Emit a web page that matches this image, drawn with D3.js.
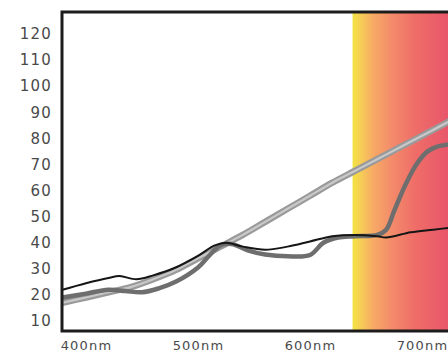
<!DOCTYPE html>
<html>
<head>
<meta charset="utf-8">
<script src="https://cdn.jsdelivr.net/npm/d3@7"></script>
<style>
  html, body { margin: 0; padding: 0; background: #fff; overflow: hidden; }
  svg { display: block; }
  .axis text { font-family: "DejaVu Sans", sans-serif; font-size: 15px; fill: #4a4a4a; letter-spacing: 1.2px; }
  .xaxis text { font-size: 13px; letter-spacing: 1.2px; }
</style>
</head>
<body>
<svg id="chart" width="448" height="355"></svg>
<script>
// ---- data ----
const yTicks = [10, 20, 30, 40, 50, 60, 70, 80, 90, 100, 110, 120];
const xTicks = [400, 500, 600, 700];

// light gray near-straight line
const lightNm  = [379, 400, 420, 440, 460, 480, 500, 520, 540, 560, 580, 600, 620, 640, 660, 680, 700, 720, 730];
const lightVal = [17, 19, 21, 23, 26, 29.5, 34, 38.5, 43, 48, 53, 58, 63, 67.5, 72, 76.5, 81, 85.5, 88];

// black thin line
const blackNm  = [379, 400, 420, 430, 445, 460, 480, 500, 515, 525, 540, 560, 580, 600, 620, 640, 660, 668, 690, 710, 730];
const blackVal = [22, 24.5, 26.5, 27.2, 26, 27.5, 30.5, 35, 39, 40, 38.5, 37.3, 38.5, 40.5, 42.5, 43, 42.5, 42, 44, 45, 46];

// dark gray curve
const darkNm  = [379, 400, 420, 435, 450, 465, 480, 500, 510, 520, 530, 545, 560, 580, 600, 612, 625, 640, 660, 668, 675, 685, 695, 705, 715, 730];
const darkVal = [19, 20.5, 22, 21.5, 21, 22.5, 25, 30.5, 35, 39, 39.5, 37, 35.5, 34.8, 35.3, 40, 42, 42.5, 43, 45, 52, 62, 70, 75, 77, 78];

const bandStartNm = 638;

// ---- drawing ----
const svg = d3.select("#chart");
const x = d3.scaleLinear().domain([400, 700]).range([86, 422]);
const y = d3.scaleLinear().domain([10, 120]).range([321, 34]);

const frame = { left: 62, top: 12, bottom: 331, right: 470 };

const defs = svg.append("defs");
const grad = defs.append("linearGradient").attr("id", "spec").attr("x1", "0%").attr("x2", "100%");
[[0, "#f2e440"], [0.08, "#f6cf55"], [0.22, "#f7a966"], [0.42, "#f38a6a"], [0.65, "#ef6e68"], [1, "#e8566a"]]
  .forEach(([o, c]) => grad.append("stop").attr("offset", o).attr("stop-color", c));
defs.append("clipPath").attr("id", "plotclip").append("rect")
  .attr("x", frame.left).attr("y", frame.top).attr("width", frame.right - frame.left).attr("height", frame.bottom - frame.top);

svg.append("rect")
  .attr("x", x(bandStartNm)).attr("y", frame.top)
  .attr("width", 448 - x(bandStartNm)).attr("height", frame.bottom - frame.top)
  .attr("fill", "url(#spec)");

const g = svg.append("g").attr("clip-path", "url(#plotclip)");
const line = d3.line().x(d => x(d[0])).y(d => y(d[1])).curve(d3.curveCatmullRom.alpha(0.5));

const lightData = lightNm.map((n, i) => [n, lightVal[i]]);
const blackData = blackNm.map((n, i) => [n, blackVal[i]]);
const darkData = darkNm.map((n, i) => [n, darkVal[i]]);

g.append("path").datum(lightData).attr("d", line).attr("fill", "none").attr("stroke", "#9a9a9a").attr("stroke-width", 6.5);
g.append("path").datum(lightData).attr("d", line).attr("fill", "none").attr("stroke", "#c9c9c9").attr("stroke-width", 2.2);
g.append("path").datum(darkData).attr("d", line).attr("fill", "none").attr("stroke", "#6e6e6e").attr("stroke-width", 4.5);
g.append("path").datum(blackData).attr("d", line).attr("fill", "none").attr("stroke", "#151515").attr("stroke-width", 2);

// frame
svg.append("path")
  .attr("d", `M${frame.right},${frame.top}H${frame.left}V${frame.bottom}H${frame.right}`)
  .attr("fill", "none").attr("stroke", "#1c1c1c").attr("stroke-width", 3);

// axes
const yAxis = d3.axisLeft(y).tickValues(yTicks).tickSize(0).tickPadding(0);
svg.append("g").attr("class", "axis").attr("transform", "translate(52,0)").call(yAxis)
  .call(s => s.select(".domain").remove());

const xAxis = d3.axisBottom(x).tickValues(xTicks).tickSize(0).tickPadding(0).tickFormat(d => d + "nm");
svg.append("g").attr("class", "axis xaxis").attr("transform", "translate(0,341)").call(xAxis)
  .call(s => s.select(".domain").remove());
</script>
</body>
</html>
